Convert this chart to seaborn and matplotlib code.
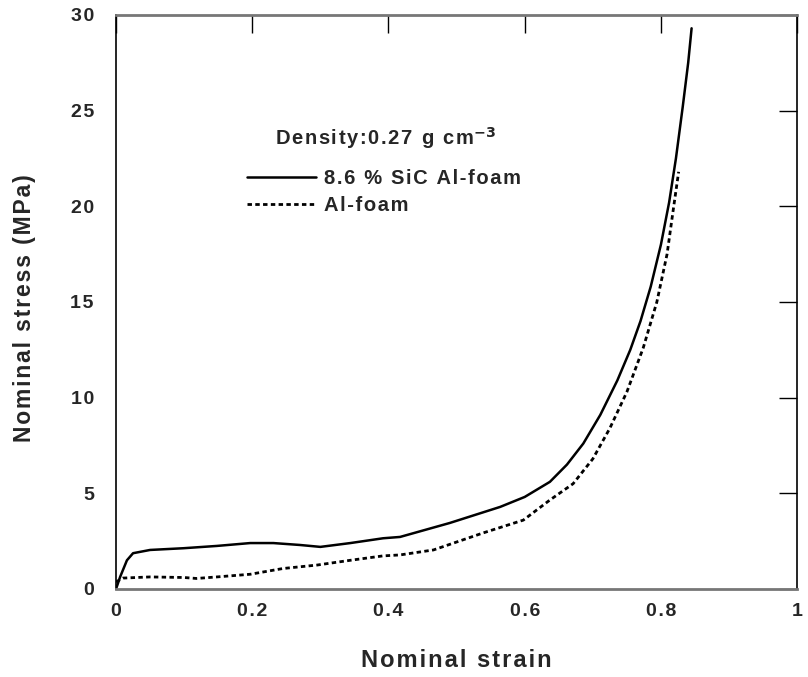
import numpy as np
import pandas as pd
import matplotlib
matplotlib.use("Agg")
import matplotlib.pyplot as plt
import seaborn as sns

sns.set_style("white")
plt.rcParams['font.family'] = ['Liberation Sans', 'DejaVu Sans']
plt.rcParams['font.weight'] = 'bold'

# 8.6 % SiC Al-foam (solid)
strain_sic = [0.0, 0.006, 0.016, 0.025, 0.05, 0.099, 0.148, 0.197, 0.231, 0.27, 0.30,
              0.344, 0.392, 0.417, 0.49, 0.564, 0.60, 0.637, 0.662, 0.686, 0.711,
              0.736, 0.755, 0.77, 0.785, 0.80, 0.812, 0.822, 0.832, 0.84, 0.845]
stress_sic = [0.0, 0.63, 1.5, 1.87, 2.04, 2.13, 2.25, 2.4, 2.4, 2.3, 2.2,
              2.4, 2.65, 2.72, 3.45, 4.29, 4.81, 5.6, 6.5, 7.6, 9.1,
              10.9, 12.5, 14.0, 15.8, 18.0, 20.2, 22.5, 25.2, 27.5, 29.3]

# Al-foam (dashed)
strain_al = [0.0, 0.01, 0.05, 0.1, 0.118, 0.148, 0.197, 0.245, 0.295, 0.344, 0.392,
             0.417, 0.466, 0.539, 0.598, 0.637, 0.671, 0.70, 0.725, 0.75, 0.774,
             0.794, 0.809, 0.818, 0.826]
stress_al = [0.37, 0.57, 0.63, 0.6, 0.55, 0.63, 0.77, 1.07, 1.25, 1.5, 1.73,
             1.78, 2.04, 2.93, 3.6, 4.65, 5.5, 6.8, 8.4, 10.3, 12.6,
             15.0, 17.5, 19.8, 21.8]

xticks = [0, 0.2, 0.4, 0.6, 0.8, 1]
xticklabels = ['0', '0.2', '0.4', '0.6', '0.8', '1']
yticks = [0, 5, 10, 15, 20, 25, 30]
yticklabels = ['0', '5', '10', '15', '20', '25', '30']

hs = '\u200a'  # hair space, the original text is letter-spaced
def spaced(s):
    return hs.join(s)

df_sic = pd.DataFrame({'strain': strain_sic, 'stress': stress_sic})
df_al = pd.DataFrame({'strain': strain_al, 'stress': stress_al})

fig = plt.figure(figsize=(8.08, 6.77), dpi=100)
ax = fig.add_axes([0.1436, 0.130, 0.843, 0.848])

sns.lineplot(data=df_sic, x='strain', y='stress', ax=ax, color='black', lw=1.8,
             label=spaced('8.6 % SiC Al-foam'), sort=False)
sns.lineplot(data=df_al, x='strain', y='stress', ax=ax, color='black', lw=2,
             linestyle=(0, (1.6, 1.2)), label=spaced('Al-foam'), sort=False)

ax.set_xlim(0, 1)
ax.set_ylim(0, 30)
ax.set_xticks(xticks)
ax.set_xticklabels([spaced(t) for t in xticklabels])
ax.set_yticks(yticks)
ax.set_yticklabels([spaced(t) for t in yticklabels])
ax.tick_params(direction='in', length=13, width=1, top=True, right=True,
               labelsize=14, color='black')
ax.tick_params(axis='x', pad=10)
ax.tick_params(axis='y', pad=16)
for lab in ax.get_xticklabels() + ax.get_yticklabels():
    lab.set_fontweight('bold')

for s in ['left', 'right']:
    ax.spines[s].set_color('black')
    ax.spines[s].set_linewidth(1.2)
for s in ['top', 'bottom']:
    ax.spines[s].set_color('#777777')
    ax.spines[s].set_linewidth(2)

ax.set_xlabel(spaced('Nominal strain'), fontsize=17, fontweight='bold')
ax.set_ylabel(spaced('Nominal stress (MPa)'), fontsize=16.5, fontweight='bold')
ax.xaxis.set_label_coords(0.5, -0.1045)
ax.yaxis.set_label_coords(-0.118, 0.49)

ax.text(0.2335, 0.786, spaced('Density:0.27 g cm') + r'$^{\mathbf{-3}}$',
        transform=ax.transAxes, fontsize=14.5, fontweight='bold', va='center', ha='left')

leg = ax.legend(loc='upper left', bbox_to_anchor=(0.1924, 0.732), frameon=False,
                handlelength=3.4, handletextpad=0.4, fontsize=14.5,
                labelspacing=0.4, borderaxespad=0, borderpad=0)
for t in leg.get_texts():
    t.set_fontweight('bold')

fig.savefig('out.png', dpi=100)
